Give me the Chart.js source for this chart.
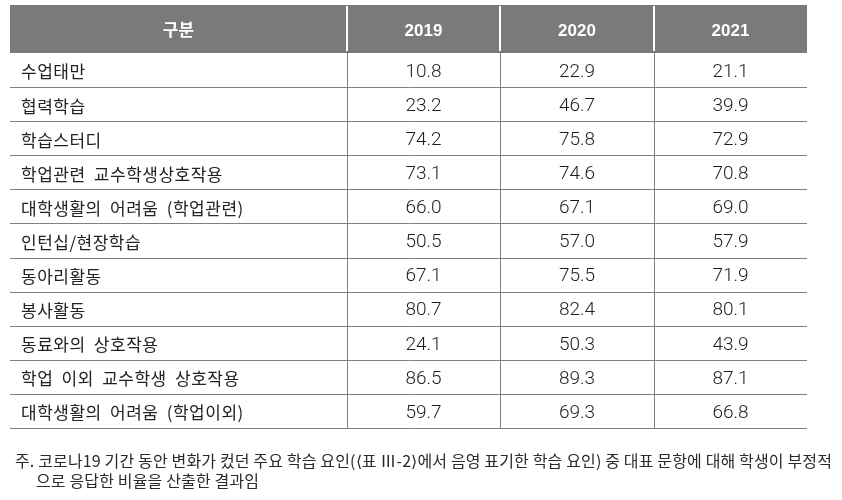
<!DOCTYPE html>
<html>
<head>
<meta charset="utf-8">
<script src="https://cdn.jsdelivr.net/npm/chart.js@4"></script>
<style>
  html, body { margin: 0; padding: 0; background: #ffffff; }
  #wrap { width: 842px; height: 500px; }
</style>
</head>
<body>
<div id="wrap"><canvas id="c" width="842" height="500"></canvas></div>
<script>
// ---- data ----
const headerLabel = '구분';
const years = ['2019', '2020', '2021'];
const categories = [
  '수업태만',
  '협력학습',
  '학습스터디',
  '학업관련 교수학생상호작용',
  '대학생활의 어려움 (학업관련)',
  '인턴십/현장학습',
  '동아리활동',
  '봉사활동',
  '동료와의 상호작용',
  '학업 이외 교수학생 상호작용',
  '대학생활의 어려움 (학업이외)'
];
const values2019 = [10.8, 23.2, 74.2, 73.1, 66.0, 50.5, 67.1, 80.7, 24.1, 86.5, 59.7];
const values2020 = [22.9, 46.7, 75.8, 74.6, 67.1, 57.0, 75.5, 82.4, 50.3, 89.3, 69.3];
const values2021 = [21.1, 39.9, 72.9, 70.8, 69.0, 57.9, 71.9, 80.1, 43.9, 87.1, 66.8];
const noteLines = [
  '주. 코로나19 기간 동안 변화가 컸던 주요 학습 요인(⟨표 Ⅲ-2⟩에서 음영 표기한 학습 요인) 중 대표 문항에 대해 학생이 부정적',
  '으로 응답한 비율을 산출한 결과임'
];

// ---- layout (positions / styles only) ----
const colEdges = [0, 42.28, 61.48, 80.8, 100];       // x-scale units
const HEADER_TOP = 5;
const HEADER_BG = '#7a7a7a';
const LINE_COLOR = '#808080';
const TEXT_COLOR = '#222222';
const KFONT = '"Noto Sans CJK KR", "Noto Sans", sans-serif';
const NFONT = 'Roboto, "Liberation Sans", Arial, sans-serif';
const HFONT = '"Liberation Sans", Arial, sans-serif';

const seriesValues = [values2019, values2020, values2021];
const colCenter = k => (colEdges[k] + colEdges[k + 1]) / 2;

function setSpacing(ctx, prop, v) { try { if (prop in ctx) ctx[prop] = v; } catch (e) {} }

const tablePlugin = {
  id: 'tablePlugin',
  afterDatasetsDraw(chart) {
    const ctx = chart.ctx;
    const xs = chart.scales.x, ys = chart.scales.y;
    const left = xs.getPixelForValue(colEdges[0]);
    const right = xs.getPixelForValue(colEdges[colEdges.length - 1]);
    const top = ys.top, bottom = ys.bottom;
    const n = categories.length;
    const band = (bottom - top) / n;
    ctx.save();

    // header
    ctx.fillStyle = HEADER_BG;
    ctx.fillRect(left, HEADER_TOP, right - left, top - HEADER_TOP);
    ctx.strokeStyle = '#ffffff';
    ctx.lineWidth = 2;
    for (let k = 1; k < colEdges.length - 1; k++) {
      const x = Math.round(xs.getPixelForValue(colEdges[k]));
      ctx.beginPath(); ctx.moveTo(x, HEADER_TOP + 1); ctx.lineTo(x, top - 2); ctx.stroke();
    }
    ctx.fillStyle = '#ffffff';
    ctx.textAlign = 'center';
    ctx.textBaseline = 'middle';
    const hy = (HEADER_TOP + top) / 2 + 1;
    ctx.font = 'bold 17px ' + KFONT;
    ctx.fillText(headerLabel, xs.getPixelForValue(colCenter(0)), hy);
    ctx.font = 'bold 17px ' + HFONT;
    years.forEach((yr, k) => ctx.fillText(yr, xs.getPixelForValue(colCenter(k + 1)), hy + 1));

    // grid
    ctx.strokeStyle = LINE_COLOR;
    ctx.lineWidth = 1;
    for (let j = 1; j <= n; j++) {
      const y = Math.round(top + j * band) + 0.5;
      ctx.beginPath(); ctx.moveTo(left, y); ctx.lineTo(right, y); ctx.stroke();
    }
    for (let k = 1; k < colEdges.length - 1; k++) {
      const x = Math.round(xs.getPixelForValue(colEdges[k])) + 0.5;
      ctx.beginPath(); ctx.moveTo(x, top); ctx.lineTo(x, bottom); ctx.stroke();
    }

    // row labels
    ctx.fillStyle = TEXT_COLOR;
    ctx.textAlign = 'left';
    ctx.font = '17px ' + KFONT;
    setSpacing(ctx, 'letterSpacing', '0.5px');
    setSpacing(ctx, 'wordSpacing', '4px');
    categories.forEach((c, i) => {
      ctx.fillText(c, left + 11, ys.getPixelForValue(i) + 2);
    });
    setSpacing(ctx, 'wordSpacing', '0px');
    setSpacing(ctx, 'letterSpacing', '0px');

    // values at dataset points
    ctx.textAlign = 'center';
    ctx.font = '300 19px ' + NFONT;
    ctx.fillStyle = '#1e1e1e';
    chart.data.datasets.forEach((ds, k) => {
      const meta = chart.getDatasetMeta(k);
      meta.data.forEach((pt, i) => {
        ctx.fillText(seriesValues[k][i].toFixed(1), pt.x, pt.y + 2);
      });
    });

    // footnote
    ctx.textAlign = 'left';
    ctx.fillStyle = '#2a2a2a';
    ctx.font = '16px ' + KFONT;
    const w0 = ctx.measureText(noteLines[0]).width;
    const target = 817;
    const ls = (target - w0) / Math.max(1, noteLines[0].length - 1);
    setSpacing(ctx, 'letterSpacing', ls.toFixed(2) + 'px');
    ctx.fillText(noteLines[0], 15, bottom + 33);
    ctx.fillText(noteLines[1], 36, bottom + 53);
    setSpacing(ctx, 'letterSpacing', '0px');
    ctx.restore();
  }
};

new Chart(document.getElementById('c'), {
  type: 'scatter',
  data: {
    datasets: years.map((yr, k) => ({
      label: yr,
      data: categories.map(c => ({ x: colCenter(k + 1), y: c })),
      pointRadius: 0,
      pointHoverRadius: 0,
      showLine: false
    }))
  },
  options: {
    responsive: false,
    animation: false,
    layout: { padding: { left: 10, right: 35, top: 53, bottom: 72 } },
    plugins: { legend: { display: false }, tooltip: { enabled: false }, title: { display: false } },
    scales: {
      x: { type: 'linear', display: false, min: 0, max: 100 },
      y: { type: 'category', labels: categories, display: false, offset: true }
    }
  },
  plugins: [tablePlugin]
});
</script>
</body>
</html>
